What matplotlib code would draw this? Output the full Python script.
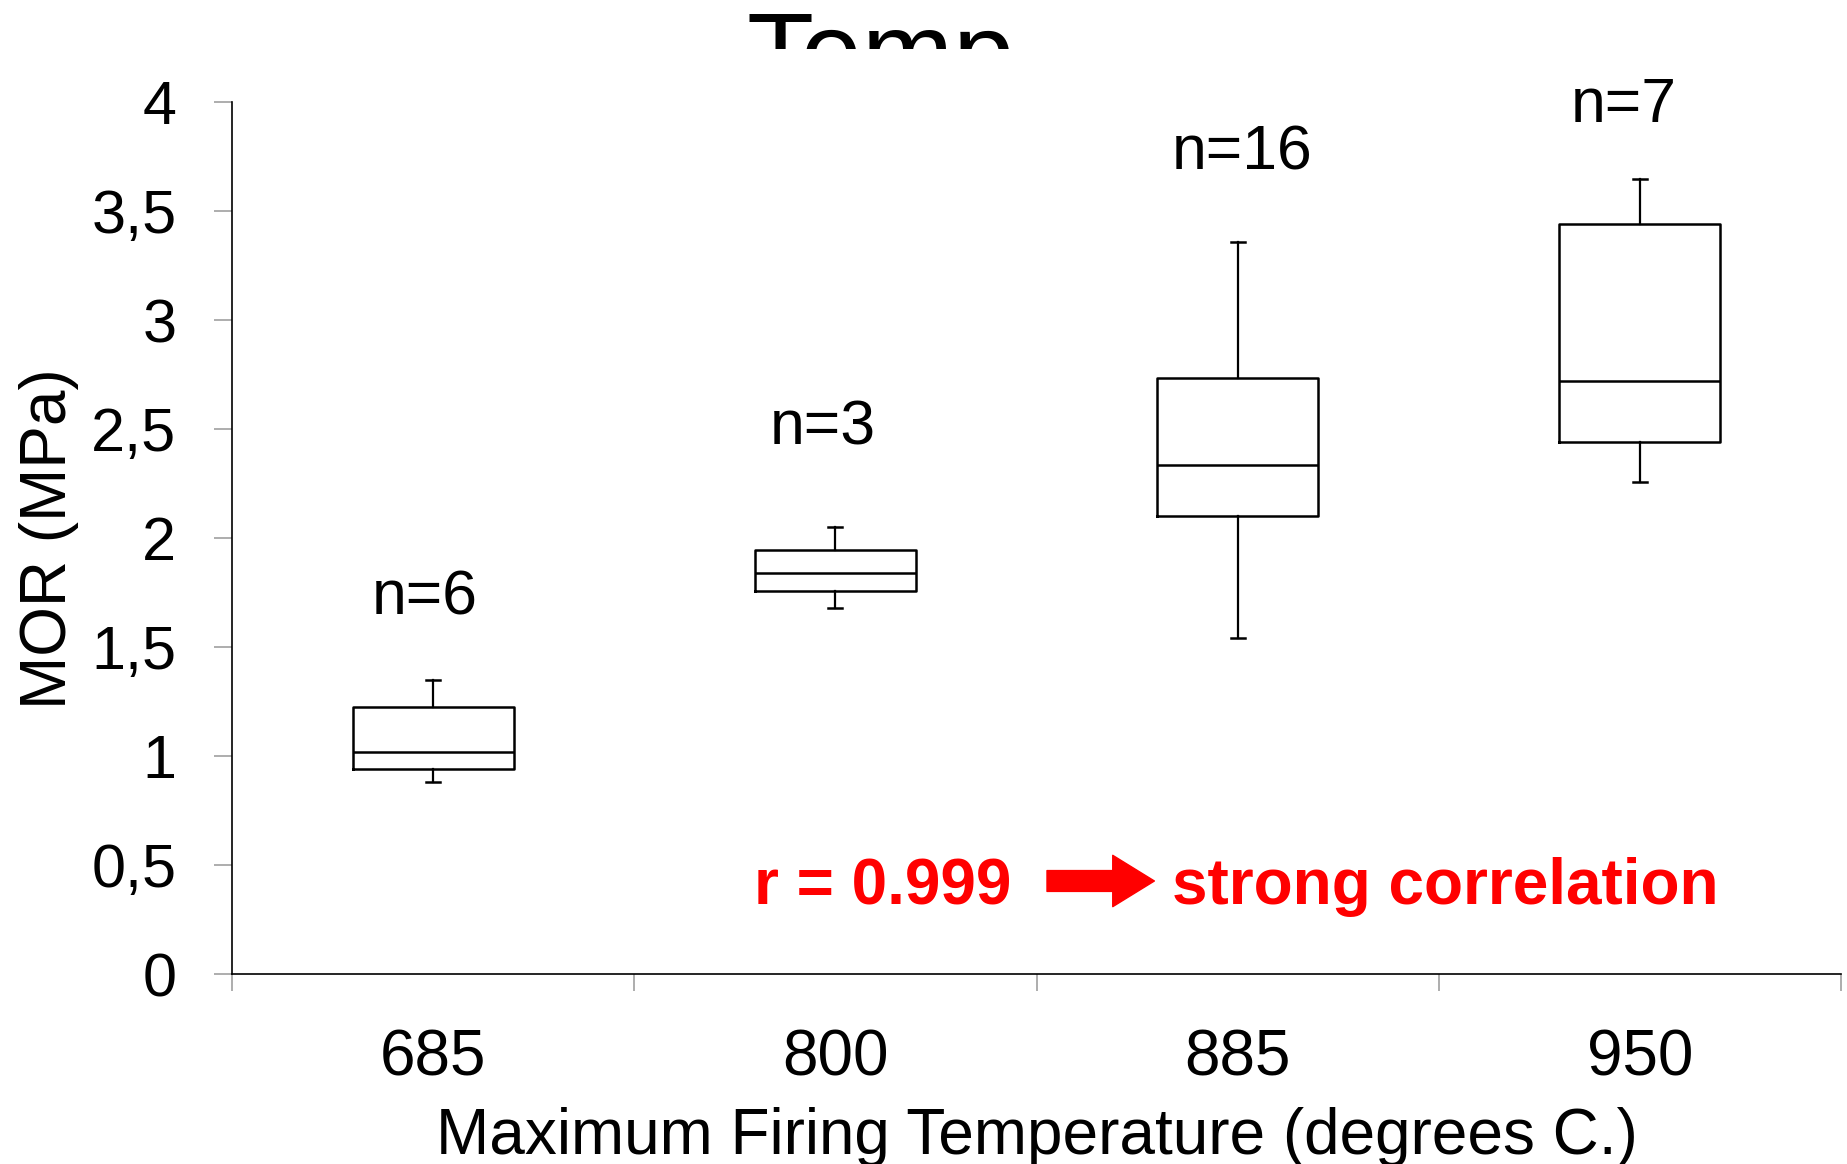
import matplotlib.pyplot as plt
from matplotlib.transforms import Bbox, TransformedBbox

plt.rcParams["font.family"] = ["Liberation Sans", "DejaVu Sans"]

temps = ["685", "800", "885", "950"]
counts = [6, 3, 16, 7]
whisker_low = [0.88, 1.68, 1.54, 2.26]
q1 = [0.94, 1.76, 2.10, 2.44]
medians = [1.02, 1.84, 2.335, 2.72]
q3 = [1.225, 1.945, 2.735, 3.44]
whisker_high = [1.35, 2.05, 3.36, 3.65]

# where the "n=" labels sit (x, baseline y in data units)
n_label_x = [0.98, 1.97, 3.01, 3.96]
n_label_y = [1.65, 2.43, 3.69, 3.91]

yticks = [0, 0.5, 1, 1.5, 2, 2.5, 3, 3.5, 4]
ytick_labels = ["0", "0,5", "1", "1,5", "2", "2,5", "3", "3,5", "4"]

narrow = ["Liberation Sans Narrow", "Liberation Sans"]

fig = plt.figure(figsize=(18.47, 11.64), dpi=100)
ax = fig.add_axes([0.1256, 0.1632, 0.8712, 0.7488])

stats = []
for i in range(len(temps)):
    stats.append({
        "whislo": whisker_low[i],
        "q1": q1[i],
        "med": medians[i],
        "q3": q3[i],
        "whishi": whisker_high[i],
        "label": temps[i],
    })

line = dict(color="black", linewidth=1.8)
ax.bxp(stats, positions=[1, 2, 3, 4], widths=0.4, capwidths=0.035,
       showfliers=False, boxprops=line, medianprops=line,
       whiskerprops=dict(color="black", linewidth=1.6),
       capprops=dict(color="black", linewidth=1.8))

for x, y, n in zip(n_label_x, n_label_y, counts):
    ax.text(x, y, f"n={n}", ha="center", va="baseline", fontsize=45)

ax.set_xlim(0.5, 4.5)
ax.set_ylim(0, 4)

# category boundaries carry the tick marks, labels sit in between
ax.set_xticks([0.5, 1.5, 2.5, 3.5, 4.5])
ax.set_xticklabels([])
ax.set_xticks([1, 2, 3, 4], minor=True)
ax.set_xticklabels(temps, minor=True, fontfamily=narrow)
ax.tick_params(axis="x", which="major", direction="out", length=12,
               width=1.2, color="#a0a0a0")
ax.tick_params(axis="x", which="minor", length=0, pad=39, labelsize=46)

ax.set_yticks(yticks)
ax.set_yticklabels(ytick_labels)
ax.tick_params(axis="y", direction="out", length=13, width=1.2,
               color="#a0a0a0", pad=27, labelsize=44)

for side in ["top", "right"]:
    ax.spines[side].set_visible(False)
ax.spines["left"].set_linewidth(1.2)
ax.spines["bottom"].set_linewidth(1.2)

ax.set_ylabel("MOR (MPa)", fontsize=46)
ax.yaxis.set_label_coords(-0.095, 0.5)
ax.set_xlabel("Maximum Firing Temperature (degrees C.)", fontsize=46,
              fontfamily=narrow)
ax.xaxis.set_label_coords(0.5, -0.153)

# red correlation note with block arrow
ax.text(1.797, 0.32, "r = 0.999", color="red", fontsize=46,
        fontweight="bold", ha="left", va="baseline")
ax.annotate("", xy=(2.793, 0.427), xytext=(2.526, 0.427),
            arrowprops=dict(arrowstyle="simple,head_length=30,head_width=37,tail_width=15",
                            mutation_scale=1, color="red", shrinkA=0, shrinkB=0))
ax.text(2.837, 0.32, "strong correlation", color="red", fontsize=46,
        fontweight="bold", ha="left", va="baseline")

# title is cut off at the top edge in the original
title = fig.text(0.404, 0.9239, "Temp", fontsize=79, ha="left", va="baseline")
title.set_clip_box(TransformedBbox(Bbox([[0, 0.9575], [1, 1]]), fig.transFigure))
title.set_clip_on(True)

fig.savefig("out.png", dpi=100)
